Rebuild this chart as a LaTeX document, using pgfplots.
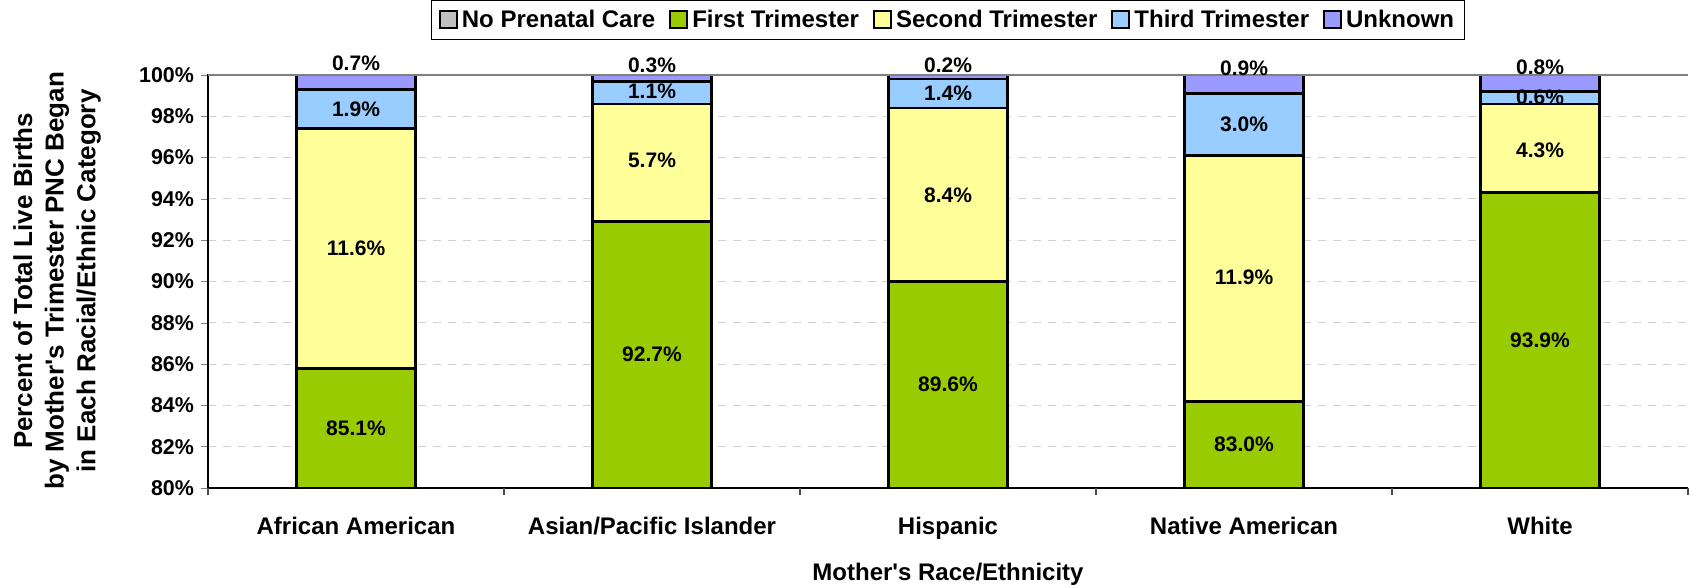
\documentclass[border=0pt]{standalone}
\usepackage{fontspec}
\setmainfont{Liberation Sans}
\usepackage{pgfplots}
\pgfplotsset{compat=1.18}
\definecolor{cnpc}{HTML}{C0C0C0}
\definecolor{cfirst}{HTML}{99CC00}
\definecolor{csecond}{HTML}{FFFF99}
\definecolor{cthird}{HTML}{99CCFF}
\definecolor{cunk}{HTML}{9999FF}
\tikzset{lab/.style={font=\fontsize{10.5}{12}\selectfont\bfseries, inner sep=0pt}}
\begin{document}
\begin{tikzpicture}
\useasboundingbox (-104pt,-48pt) rectangle (741pt,244pt);
\begin{axis}[
  at={(0,0)}, anchor=south west,
  scale only axis, width=740pt, height=207.1pt,
  ybar stacked, bar width=59.25pt,
  xmin=-0.5, xmax=4.5, ymin=80, ymax=100.06,
  axis lines=left, axis line style={-, line width=0.8pt, black},
  xtick={0,1,2,3,4},
  xticklabels={African American, Asian/Pacific Islander, Hispanic, Native American, White},
  xticklabel style={font=\fontsize{12}{14}\selectfont\bfseries, yshift=-7.3pt},
  major x tick style={draw=none},
  ytick={80,82,...,100},
  yticklabel={\pgfmathprintnumber{\tick}\%},
  yticklabel style={font=\fontsize{10.7}{12}\selectfont\bfseries, /pgf/number format/assume math mode=true},
  tick align=outside, major tick length=3.5pt,
  ymajorgrids, grid style={dash pattern=on 4pt off 3.5pt, color=black!18, line width=0.5pt},
  legend columns=5,
  legend cell align=left,
  legend image code/.code={\draw[#1, line width=1pt] (0pt,-4.25pt) rectangle (8.5pt,4.25pt);},
  legend style={at={(0.5,1)}, anchor=south, yshift=17pt, draw=black, line width=0.6pt,
    font=\fontsize{12}{14}\selectfont\bfseries, inner ysep=2.5pt, inner xsep=3.5pt,
    nodes={inner xsep=1.5pt},
    /tikz/every odd column/.append style={column sep=0.5pt},
    /tikz/every even column/.append style={column sep=5.5pt}},
  xlabel={Mother\textquotesingle s Race/Ethnicity},
  xlabel style={at={(axis description cs:0.5,-0.2075)}, anchor=center, font=\fontsize{12}{14}\selectfont\bfseries},
  ylabel={Percent of Total Live Births\\by Mother\textquotesingle s Trimester PNC Began\\in Each Racial/Ethnic Category},
  ylabel style={at={(axis description cs:-0.102,0.5)}, anchor=center, align=center, font=\fontsize{13}{15.8}\selectfont\bfseries},
]
\addplot[fill=cnpc, draw=black, line width=1.3pt] coordinates {(0,0.7) (1,0.2) (2,0.4) (3,1.2) (4,0.4)};
\addplot[fill=cfirst, draw=black, line width=1.3pt] coordinates {(0,85.1) (1,92.7) (2,89.6) (3,83.0) (4,93.9)};
\addplot[fill=csecond, draw=black, line width=1.3pt] coordinates {(0,11.6) (1,5.7) (2,8.4) (3,11.9) (4,4.3)};
\addplot[fill=cthird, draw=black, line width=1.3pt] coordinates {(0,1.9) (1,1.1) (2,1.4) (3,3.0) (4,0.6)};
\addplot[fill=cunk, draw=black, line width=1.3pt] coordinates {(0,0.7) (1,0.3) (2,0.2) (3,0.9) (4,0.8)};
\legend{No Prenatal Care, First Trimester, Second Trimester, Third Trimester, Unknown}
\coordinate (g0) at (axis cs:-0.5,100);
\coordinate (g1) at (axis cs:4.5,100);
\coordinate (b0) at (axis cs:-0.5,80);
% label positions: first, second, third, unknown(top)
\coordinate (a1) at (axis cs:0,82.9);
\coordinate (a2) at (axis cs:0,91.6);
\coordinate (a3) at (axis cs:0,98.35);
\coordinate (a4) at (axis cs:0,100.55);
\coordinate (b1) at (axis cs:1,86.5);
\coordinate (b2) at (axis cs:1,95.85);
\coordinate (b3) at (axis cs:1,99.2);
\coordinate (b4) at (axis cs:1,100.45);
\coordinate (c1) at (axis cs:2,85.0);
\coordinate (c2) at (axis cs:2,94.2);
\coordinate (c3) at (axis cs:2,99.1);
\coordinate (c4) at (axis cs:2,100.45);
\coordinate (d1) at (axis cs:3,82.1);
\coordinate (d2) at (axis cs:3,90.2);
\coordinate (d3) at (axis cs:3,97.6);
\coordinate (d4) at (axis cs:3,100.35);
\coordinate (e1) at (axis cs:4,87.15);
\coordinate (e2) at (axis cs:4,96.35);
\coordinate (e3) at (axis cs:4,98.9);
\coordinate (e4) at (axis cs:4,100.4);
\end{axis}
\draw[black!50, line width=0.7pt] (g0) -- (g1);
\foreach \i in {0,...,5} {\draw[black!70, line width=0.6pt] ([xshift=\i*148pt]b0) -- ++(0,-3.5pt);}
\node[lab] at (a1) {85.1\%};
\node[lab] at (a2) {11.6\%};
\node[lab] at (a3) {1.9\%};
\node[lab] at (a4) {0.7\%};
\node[lab] at (b1) {92.7\%};
\node[lab] at (b2) {5.7\%};
\node[lab] at (b3) {1.1\%};
\node[lab] at (b4) {0.3\%};
\node[lab] at (c1) {89.6\%};
\node[lab] at (c2) {8.4\%};
\node[lab] at (c3) {1.4\%};
\node[lab] at (c4) {0.2\%};
\node[lab] at (d1) {83.0\%};
\node[lab] at (d2) {11.9\%};
\node[lab] at (d3) {3.0\%};
\node[lab] at (d4) {0.9\%};
\node[lab] at (e1) {93.9\%};
\node[lab] at (e2) {4.3\%};
\node[lab] at (e3) {0.6\%};
\node[lab] at (e4) {0.8\%};
\end{tikzpicture}
\end{document}
